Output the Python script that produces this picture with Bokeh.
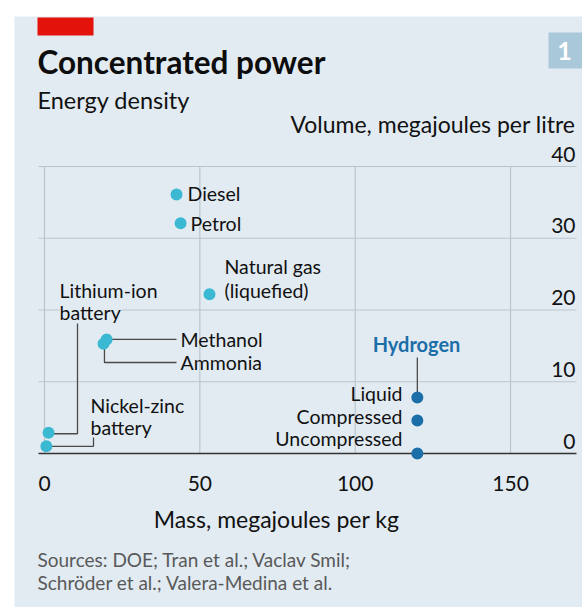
from bokeh.plotting import figure
from bokeh.embed import file_html
from bokeh.resources import INLINE
from bokeh.core.properties import value

# ---------------- data ----------------
fuel_names = ["Diesel", "Petrol", "Natural gas", "Methanol", "Ammonia",
              "Lithium-ion battery", "Nickel-zinc battery"]
fuel_mass = [42.5, 43.8, 53.1, 20.0, 19.0, 1.3, 0.6]        # MJ per kg
fuel_volume = [36.1, 32.1, 22.2, 15.9, 15.3, 2.9, 1.0]      # MJ per litre

h2_names = ["Liquid", "Compressed", "Uncompressed"]
h2_mass = [120.0, 120.0, 120.0]
h2_volume = [7.8, 4.6, 0.0]

x_ticks = [0, 50, 100, 150]
x_tick_labels = ["0", "50", "100", "150"]
y_ticks = [10, 20, 30, 40]
y_label_ticks = [0, 10, 20, 30, 40]
y_tick_labels = ["0", "10", "20", "30", "40"]

# ---------------- layout helpers (page pixels -> data) ----------------
X0, XS, Y0, YS = 44.0, 3.107, 453.0, 7.175
def X(px): return (px - X0) / XS
def Y(py): return (Y0 - py) / YS

FONT = "Lato"
BG = "#e2ebf2"
TEAL = "#3bb9d2"
DARK = "#1b6ea8"
GRID = "#b9c5cd"
LEAD = "#4a4a4a"

p = figure(width=582, height=607, x_range=(X(0), X(582)), y_range=(Y(607), Y(0)),
           x_axis_type=None, y_axis_type=None, min_border=0,
           toolbar_location=None, output_backend="svg",
           background_fill_color="white", border_fill_color="white",
           outline_line_color=None)
p.xgrid.visible = False
p.ygrid.visible = False

# panel, red tag, chart number box
p.quad(left=X(14), right=X(582), top=Y(16), bottom=Y(607), color=BG, line_color=None)
p.quad(left=X(37), right=X(93), top=Y(17), bottom=Y(35), color="#e3120b", line_color=None)
p.quad(left=X(548), right=X(582), top=Y(32), bottom=Y(68), color="#a9c8da", line_color=None)

def txt(x, y, s, size, align="left", color="#111111", style="normal", **kw):
    p.text(x=[x], y=[y], text=[s], text_font=value(FONT), text_font_size=f"{size}px",
           text_align=align, text_baseline="middle", text_color=color,
           text_font_style=style, **kw)

txt(X(564), Y(50), "1", 25, align="center", color="white", style="bold")
txt(X(37), Y(61), "Concentrated power", 31.5, style="bold", color="#0d0d0d")
txt(X(37), Y(99), "Energy density", 23.5)
txt(X(575), Y(123), "Volume, megajoules per litre", 23, align="right")
txt(X(276), Y(518.5), "Mass, megajoules per kg", 23, align="center")
txt(X(37), Y(559), "Sources: DOE; Tran et al.; Vaclav Smil;", 19, color="#595959")
txt(X(37), Y(582), "Schröder et al.; Valera-Medina et al.", 19, color="#595959")

# grid
p.segment(x0=[X(38)] * len(y_ticks), x1=[X(576)] * len(y_ticks), y0=y_ticks, y1=y_ticks,
          line_color=GRID, line_width=1.2)
p.segment(x0=x_ticks, x1=x_ticks, y0=[0] * len(x_ticks), y1=[max(y_ticks)] * len(x_ticks),
          line_color=GRID, line_width=1.2)

# tick labels
p.text(x=x_ticks, y=[Y(482.5)] * len(x_ticks), text=x_tick_labels, text_font=value(FONT),
       text_font_size="21px", text_align="center", text_baseline="middle", text_color="#111111")
p.text(x=[X(575)] * len(y_label_ticks), y=[t + 12.5 / YS for t in y_label_ticks],
       text=y_tick_labels, text_font=value(FONT), text_font_size="21px", text_align="right",
       text_baseline="middle", text_color="#111111")

# baseline
p.segment(x0=[X(38)], x1=[X(576)], y0=[0], y1=[0], line_color="#333333", line_width=1.6)

# labels that knock out the grid
txt(X(59), Y(290), "Lithium-ion", 19.5, background_fill_color=BG)
txt(X(59), Y(312), "battery", 19.5, background_fill_color=BG)

# leader lines
li, ni, me, am = 5, 6, 3, 4
p.line(x=[fuel_mass[li], X(77), X(77)], y=[fuel_volume[li] - 0.15, fuel_volume[li] - 0.15, Y(323)],
       line_color=LEAD, line_width=1.3)
p.line(x=[fuel_mass[ni], X(93), X(93)], y=[fuel_volume[ni], fuel_volume[ni], Y(437)],
       line_color=LEAD, line_width=1.3)
p.line(x=[fuel_mass[me], X(176)], y=[fuel_volume[me], fuel_volume[me]],
       line_color=LEAD, line_width=1.3)
p.line(x=[fuel_mass[am] + 0.3, fuel_mass[am] + 0.3, X(176)], y=[fuel_volume[am], Y(362), Y(362)],
       line_color=LEAD, line_width=1.3)
p.line(x=[h2_mass[0], h2_mass[0]], y=[Y(357), h2_volume[0]], line_color=LEAD, line_width=1.3)

# points
p.scatter(x=fuel_mass, y=fuel_volume, size=12, color=TEAL, line_color=None)
p.scatter(x=h2_mass, y=h2_volume, size=12, color=DARK, line_color=None)

# point labels
txt(X(187), Y(193), "Diesel", 19.5)
txt(X(190), Y(223), "Petrol", 19.5)
txt(X(224), Y(266), "Natural gas", 19.5)
txt(X(224), Y(290), "(liquefied)", 19.5)
txt(X(180), Y(339), "Methanol", 19.5)
txt(X(180), Y(362), "Ammonia", 19.5)
txt(X(90), Y(405), "Nickel-zinc", 19.5)
txt(X(90), Y(427), "battery", 19.5)
txt(X(416), Y(343), "Hydrogen", 20, align="center", color=DARK, style="bold")
for name, yy in zip(h2_names, [393, 416, 438]):
    txt(X(402), Y(yy), name, 19.5, align="right")

open("out.html", "w").write(file_html(p, INLINE))
